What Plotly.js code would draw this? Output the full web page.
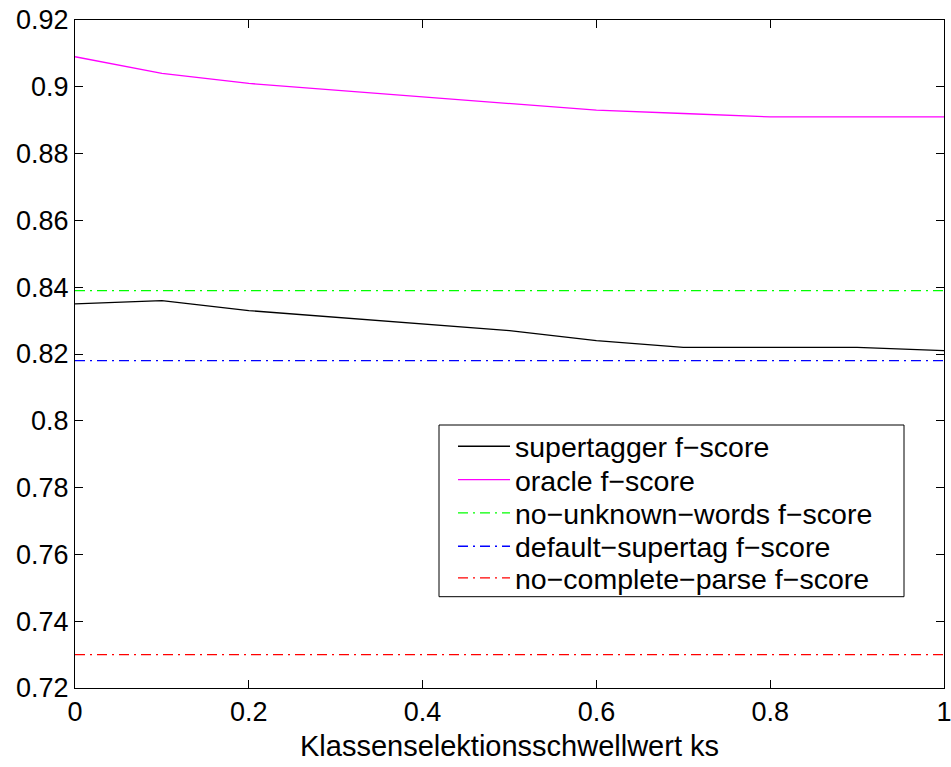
<!DOCTYPE html>
<html>
<head>
<meta charset="utf-8">
<script src="https://cdn.plot.ly/plotly-3.0.1.min.js"></script>
<style>html,body{margin:0;padding:0;background:#fff;}</style>
</head>
<body>
<div id="chart" style="width:951px;height:767px;"></div>
<script>
const ks = [0, 0.1, 0.2, 0.3, 0.4, 0.5, 0.6, 0.7, 0.8, 0.9, 1.0];
const supertagger = [0.835, 0.836, 0.833, 0.831, 0.829, 0.827, 0.824, 0.822, 0.822, 0.822, 0.821];
const oracle = [0.909, 0.904, 0.901, 0.899, 0.897, 0.895, 0.893, 0.892, 0.891, 0.891, 0.891];
const noUnknownWords = 0.839;
const defaultSupertag = 0.818;
const noCompleteParse = 0.730;
const names = ["supertagger f−score", "oracle f−score", "no−unknown−words f−score", "default−supertag f−score", "no−complete−parse f−score"];
const xTicks = [0, 0.2, 0.4, 0.6, 0.8, 1];
const xTickText = ["0", "0.2", "0.4", "0.6", "0.8", "1"];
const yTicks = [0.72, 0.74, 0.76, 0.78, 0.8, 0.82, 0.84, 0.86, 0.88, 0.9, 0.92];
const yTickText = ["0.72", "0.74", "0.76", "0.78", "0.8", "0.82", "0.84", "0.86", "0.88", "0.9", "0.92"];

const dd = "10px,5px,2px,5px";
const flat = v => ks.map(() => v);
const legendIds = ["legend", "legend2", "legend3", "legend4", "legend5"];
const traces = [
  {x: ks, y: supertagger, name: names[0], mode: "lines", legend: legendIds[0], line: {color: "#000000", width: 1.3}},
  {x: ks, y: oracle, name: names[1], mode: "lines", legend: legendIds[1], line: {color: "#ff00ff", width: 1.3}},
  {x: ks, y: flat(noUnknownWords), name: names[2], mode: "lines", legend: legendIds[2], line: {color: "#00ff00", width: 1.3, dash: dd}},
  {x: ks, y: flat(defaultSupertag), name: names[3], mode: "lines", legend: legendIds[3], line: {color: "#0000ff", width: 1.3, dash: dd}},
  {x: ks, y: flat(noCompleteParse), name: names[4], mode: "lines", legend: legendIds[4], line: {color: "#ff0000", width: 1.3, dash: dd}}
];
const fam = "Liberation Sans, Arial, sans-serif";
const tickFont = {family: fam, size: 27, color: "#000"};
const axisCommon = {
  showgrid: false, zeroline: false, showline: true, linecolor: "#000", linewidth: 1,
  mirror: "ticks", ticks: "inside", ticklen: 8, tickcolor: "#000", tickwidth: 1,
  tickfont: tickFont, ticklabeloverflow: "allow"
};
// plot area in px: x 75..944, y 20..688
const px2x = p => (p - 75) / 869;
const px2y = p => (688 - p) / 668;
const rowCenters = [446.7, 480, 513.3, 546.7, 578.3];
const layout = {
  width: 951, height: 767,
  margin: {l: 75, r: 7, t: 20, b: 79},
  paper_bgcolor: "#fff", plot_bgcolor: "#fff",
  font: {family: fam, size: 27, color: "#000"},
  showlegend: true,
  shapes: [{
    type: "rect", xref: "paper", yref: "paper", layer: "above",
    x0: px2x(439), x1: px2x(904), y0: px2y(596.7), y1: px2y(425),
    line: {color: "#000", width: 1}, fillcolor: "#fff"
  }],
  xaxis: Object.assign({}, axisCommon, {
    range: [0, 1], tickvals: xTicks, ticktext: xTickText,
    title: {text: "Klassenselektionsschwellwert ks", font: {family: fam, size: 29, color: "#000"}, standoff: 9}
  }),
  yaxis: Object.assign({}, axisCommon, {
    range: [0.72, 0.92], tickvals: yTicks, ticktext: yTickText
  })
};
legendIds.forEach((id, i) => {
  layout[id] = {
    x: px2x(453), y: px2y(rowCenters[i]), xanchor: "left", yanchor: "middle",
    bgcolor: "rgba(0,0,0,0)", borderwidth: 0, itemwidth: 52,
    font: {family: fam, size: 28.5, color: "#000"}
  };
});
Plotly.newPlot("chart", traces, layout, {displayModeBar: false, staticPlot: true});
</script>
</body>
</html>
